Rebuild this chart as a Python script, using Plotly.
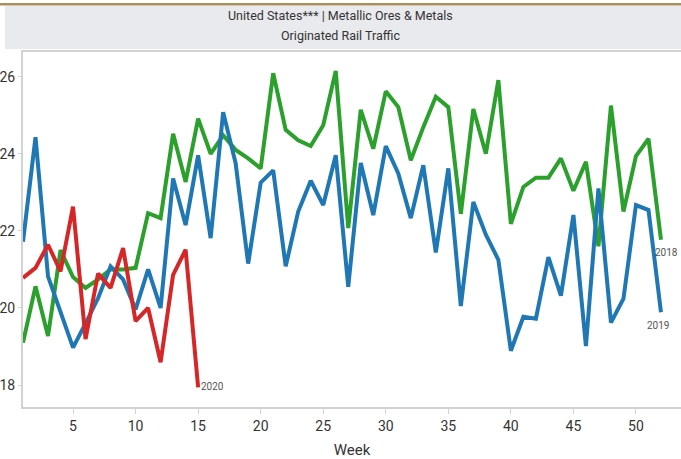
import plotly.graph_objects as go

weeks_2018 = list(range(1, 53))
weeks_2019 = list(range(1, 53))
weeks_2020 = list(range(1, 16))

carloads_2018 = [19.1, 20.56, 19.27, 21.5, 20.8, 20.52, 20.74, 21.0, 21.0, 21.04,
                 22.46, 22.33, 24.52, 23.27, 24.91, 24.0, 24.48, 24.1, 23.88, 23.62,
                 26.09, 24.62, 24.35, 24.2, 24.74, 26.15, 22.07, 25.14, 24.13, 25.62,
                 25.21, 23.83, 24.69, 25.48, 25.21, 22.44, 25.16, 24.0, 25.91, 22.18,
                 23.14, 23.38, 23.38, 23.88, 23.04, 23.79, 21.6, 25.25, 22.5, 23.94,
                 24.39, 21.77]

carloads_2019 = [21.72, 24.43, 20.82, 19.9, 18.97, 19.6, 20.25, 21.08, 20.74, 19.96,
                 21.0, 20.0, 23.36, 22.15, 23.96, 21.81, 25.08, 23.75, 21.15, 23.25,
                 23.57, 21.08, 22.5, 23.3, 22.67, 23.96, 20.55, 23.76, 22.41, 24.2,
                 23.49, 22.33, 23.7, 21.44, 23.62, 20.05, 22.75, 21.9, 21.25, 18.89,
                 19.77, 19.72, 21.32, 20.32, 22.41, 19.01, 23.1, 19.62, 20.24, 22.67,
                 22.54, 19.89]

carloads_2020 = [20.78, 21.04, 21.64, 20.95, 22.63, 19.19, 20.89, 20.52, 21.55, 19.66,
                 20.0, 18.59, 20.86, 21.51, 17.94]

x_ticks = [5, 10, 15, 20, 25, 30, 35, 40, 45, 50]
y_ticks = [18, 20, 22, 24, 26]

title_lines = ["United States*** | Metallic Ores & Metals", "Originated Rail Traffic"]

FONT = "Liberation Sans Narrow, Arial Narrow, Roboto, sans-serif"
TEXT_COLOR = "#333333"
AXIS_COLOR = "#d2d2d2"

series = [
    ("2018", weeks_2018, carloads_2018, "#2ca02c"),
    ("2019", weeks_2019, carloads_2019, "#1f77b4"),
    ("2020", weeks_2020, carloads_2020, "#d62728"),
]

fig = go.Figure()

for name, weeks, values, color in series:
    fig.add_trace(go.Scatter(
        x=weeks,
        y=values,
        mode="lines",
        name=name,
        line=dict(color=color, width=4),
        showlegend=False,
        hovertemplate="Week %{x}<br>%{y:.2f}<extra>" + name + "</extra>"
    ))

# end-of-line labels
label_style = dict(showarrow=False, font=dict(family=FONT, size=10, color="#555555"))
fig.add_annotation(x=weeks_2020[-1], y=carloads_2020[-1], text="2020",
                   xanchor="left", xshift=1, yshift=1, **label_style)
fig.add_annotation(x=weeks_2019[-1], y=carloads_2019[-1], text="2019",
                   xanchor="center", xshift=-3, yshift=-13, **label_style)
fig.add_annotation(xref="paper", x=1.0, y=carloads_2018[-1], text="2018",
                   xanchor="right", xshift=-1, yshift=-13, **label_style)

# header band
fig.add_shape(type="rect", xref="paper", yref="paper",
              x0=-0.0274, x1=1.0, y0=1.0085, y1=1.1296,
              fillcolor="#e9eaee", line=dict(width=0), layer="below")
fig.add_shape(type="rect", xref="paper", yref="paper",
              x0=-0.035, x1=1.0, y0=1.131, y1=1.138,
              fillcolor="#a89058", line=dict(width=0))
for line_text, y_pos in zip(title_lines, [1.1042, 1.0451]):
    fig.add_annotation(xref="paper", yref="paper", x=0.4818, y=y_pos,
                       text=line_text, showarrow=False,
                       xanchor="center", yanchor="middle",
                       font=dict(family=FONT, size=12.5, color=TEXT_COLOR))

fig.update_layout(
    width=681,
    height=459,
    margin=dict(l=23, r=0, t=52, b=52),
    plot_bgcolor="white",
    paper_bgcolor="white",
    font=dict(family=FONT, color=TEXT_COLOR),
    xaxis=dict(
        range=[1, 53.6],
        tickmode="array",
        tickvals=x_ticks,
        showgrid=False,
        zeroline=False,
        showline=True,
        linecolor=AXIS_COLOR,
        linewidth=2,
        mirror=True,
        ticks="outside",
        ticklen=5,
        tickcolor=AXIS_COLOR,
        tickfont=dict(size=14, color=TEXT_COLOR),
        title=dict(text="Week", font=dict(size=15, color=TEXT_COLOR), standoff=14),
    ),
    yaxis=dict(
        range=[17.43, 26.64],
        tickmode="array",
        tickvals=y_ticks,
        showgrid=False,
        zeroline=False,
        showline=True,
        linecolor=AXIS_COLOR,
        linewidth=2,
        ticks="outside",
        ticklen=3,
        tickcolor=AXIS_COLOR,
        tickfont=dict(size=14, color=TEXT_COLOR),
    ),
)

fig.write_html("out.html",
               config={"displayModeBar": False},
               post_script="document.body.style.margin='0';document.body.style.overflow='hidden';")
